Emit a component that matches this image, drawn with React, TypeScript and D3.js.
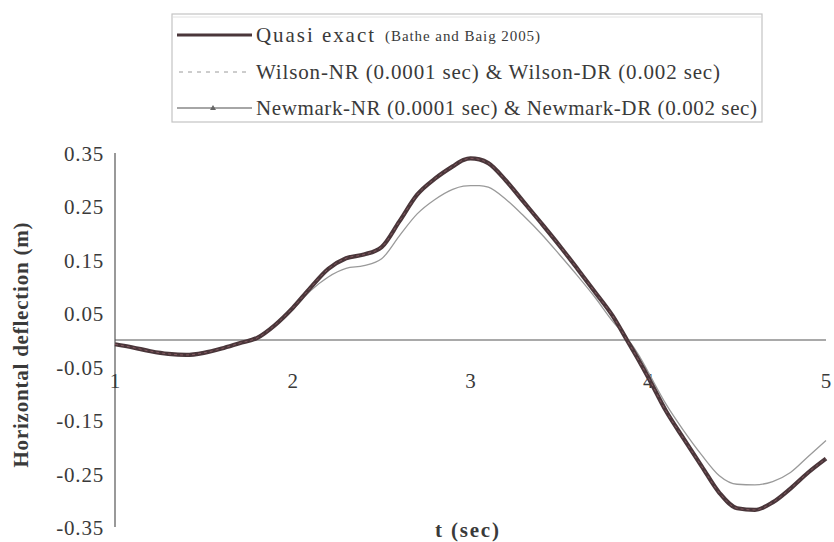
import React from "react";
import * as d3 from "d3";

const tValues = [1.0, 1.1, 1.2, 1.3, 1.4, 1.5, 1.6, 1.7, 1.8, 1.9, 2.0, 2.1, 2.2, 2.3, 2.4, 2.5, 2.6, 2.7, 2.8, 2.9, 2.96, 3.0, 3.05, 3.1, 3.2, 3.3, 3.4, 3.5, 3.6, 3.7, 3.8, 3.88, 3.95, 4.0, 4.1, 4.2, 4.3, 4.4, 4.5, 4.6, 4.7, 4.8, 4.9, 5.0];

const quasiExact = [-0.008, -0.014, -0.021, -0.026, -0.028, -0.024, -0.016, -0.006, 0.004, 0.028, 0.06, 0.098, 0.133, 0.153, 0.16, 0.174, 0.222, 0.272, 0.302, 0.325, 0.337, 0.34, 0.338, 0.331, 0.298, 0.258, 0.218, 0.177, 0.134, 0.09, 0.045, 0.0, -0.04, -0.07, -0.133, -0.185, -0.236, -0.286, -0.315, -0.318, -0.304, -0.278, -0.248, -0.222];

const wilson = [-0.008, -0.014, -0.021, -0.026, -0.028, -0.024, -0.016, -0.006, 0.004, 0.028, 0.06, 0.098, 0.133, 0.153, 0.16, 0.174, 0.222, 0.272, 0.302, 0.325, 0.337, 0.34, 0.338, 0.331, 0.298, 0.258, 0.218, 0.177, 0.134, 0.09, 0.045, 0.0, -0.04, -0.07, -0.133, -0.185, -0.236, -0.286, -0.315, -0.318, -0.304, -0.278, -0.248, -0.222];

const newmark = [-0.008, -0.014, -0.021, -0.026, -0.028, -0.024, -0.016, -0.006, 0.004, 0.027, 0.057, 0.092, 0.118, 0.134, 0.139, 0.152, 0.195, 0.236, 0.263, 0.282, 0.288, 0.289, 0.289, 0.286, 0.263, 0.232, 0.198, 0.16, 0.121, 0.08, 0.035, 0.004, -0.03, -0.06, -0.12, -0.17, -0.215, -0.254, -0.27, -0.271, -0.265, -0.248, -0.218, -0.188];

const xTicks = [1, 2, 3, 4, 5];
const yTicks = [0.35, 0.25, 0.15, 0.05, -0.05, -0.15, -0.25, -0.35];

const legendLabels = [
  "Quasi exact",
  "Wilson-NR (0.0001 sec) &  Wilson-DR (0.002 sec)",
  "Newmark-NR (0.0001 sec) & Newmark-DR (0.002 sec)",
];
const legendNote = "(Bathe and Baig 2005)";

const FONT = '"Liberation Serif", "Times New Roman", "DejaVu Serif", serif';

export default function App() {
  const W = 834;
  const H = 542;
  const x = d3.scaleLinear().domain([1, 5]).range([115, 826]);
  const y = d3.scaleLinear().domain([-0.35, 0.35]).range([527, 153]);

  const mk = (vals: number[]) =>
    d3
      .line<number>()
      .x((_, i) => x(tValues[i]))
      .y((v) => y(v))
      .curve(d3.curveMonotoneX)(vals) as string;

  const textColor = "#3a3a3a";
  const thickColor = "#4a363a";
  const thinColor = "#9a9a9a";
  const ts = { fontFamily: FONT };

  return (
    <svg
      width={W}
      height={H}
      style={{ position: "absolute", left: 0, top: 0, background: "#fff", fontFamily: FONT }}
    >
      <rect x={0} y={0} width={W} height={H} fill="#fff" />
      {/* Legend */}
      <rect x={172} y={14} width={590} height={108} fill="#fff" stroke="#c4c4c4" strokeWidth={1.2} />
      <line x1={173} y1={17} x2={761} y2={17} stroke="#e2e2e2" strokeWidth={1} />
      <line x1={177} y1={35} x2={252} y2={35} stroke={thickColor} strokeWidth={3} />
      <line x1={179} y1={72} x2={250} y2={72} stroke={thinColor} strokeWidth={1} strokeDasharray="4,5" />
      <line x1={177} y1={108} x2={252} y2={108} stroke="#888" strokeWidth={1.6} />
      <path d={`M${210},${110} L${213},${105} L${216},${110} Z`} fill="#666" />
      <text style={ts} x={256} y={42} fontSize={21} fill={textColor} textLength={118} lengthAdjust="spacing">
        {legendLabels[0]}
      </text>
      <text style={ts} x={385} y={41} fontSize={15} fill={textColor} textLength={155} lengthAdjust="spacing">
        {legendNote}
      </text>
      <text style={ts} x={256} y={79} fontSize={21} fill={textColor} textLength={464} lengthAdjust="spacing">{legendLabels[1]}</text>
      <text style={ts} x={256} y={115} fontSize={21} fill={textColor} textLength={501} lengthAdjust="spacing">{legendLabels[2]}</text>

      {/* Axes */}
      <line x1={x(1)} y1={y(0.35)} x2={x(1)} y2={y(-0.35)} stroke="#555" strokeWidth={1.2} />
      <line x1={x(1)} y1={y(0)} x2={x(5)} y2={y(0)} stroke="#555" strokeWidth={1.2} />
      {xTicks.map((t) => (
        <text style={ts} key={t} x={x(t)} y={y(0) + 48} fontSize={21} fill={textColor} textAnchor="middle">
          {t}
        </text>
      ))}
      {yTicks.map((v) => (
        <text style={ts} key={v} x={104} y={y(v) + 8} fontSize={21} fill={textColor} textAnchor="end" letterSpacing={0.8}>
          {v.toFixed(2)}
        </text>
      ))}

      {/* Series */}
      <path d={mk(newmark)} fill="none" stroke={thinColor} strokeWidth={1.3} />
      <path d={mk(quasiExact)} fill="none" stroke={thickColor} strokeWidth={4.2} strokeLinejoin="round" />
      <path d={mk(wilson)} fill="none" stroke="#a8707a" strokeWidth={1} strokeDasharray="3,3" opacity={0.6} />

      {/* Axis titles */}
      <text
        style={ts}
        transform={`translate(28,${345}) rotate(-90)`}
        textAnchor="middle"
        fontSize={21}
        fontWeight="bold"
        fill={textColor}
        textLength={245}
        lengthAdjust="spacing"
      >
        Horizontal deflection (m)
      </text>
      <text style={ts} x={467} y={537} textAnchor="middle" fontSize={21} fontWeight="bold" fill={textColor} textLength={64} lengthAdjust="spacing">
        t (sec)
      </text>
    </svg>
  );
}
